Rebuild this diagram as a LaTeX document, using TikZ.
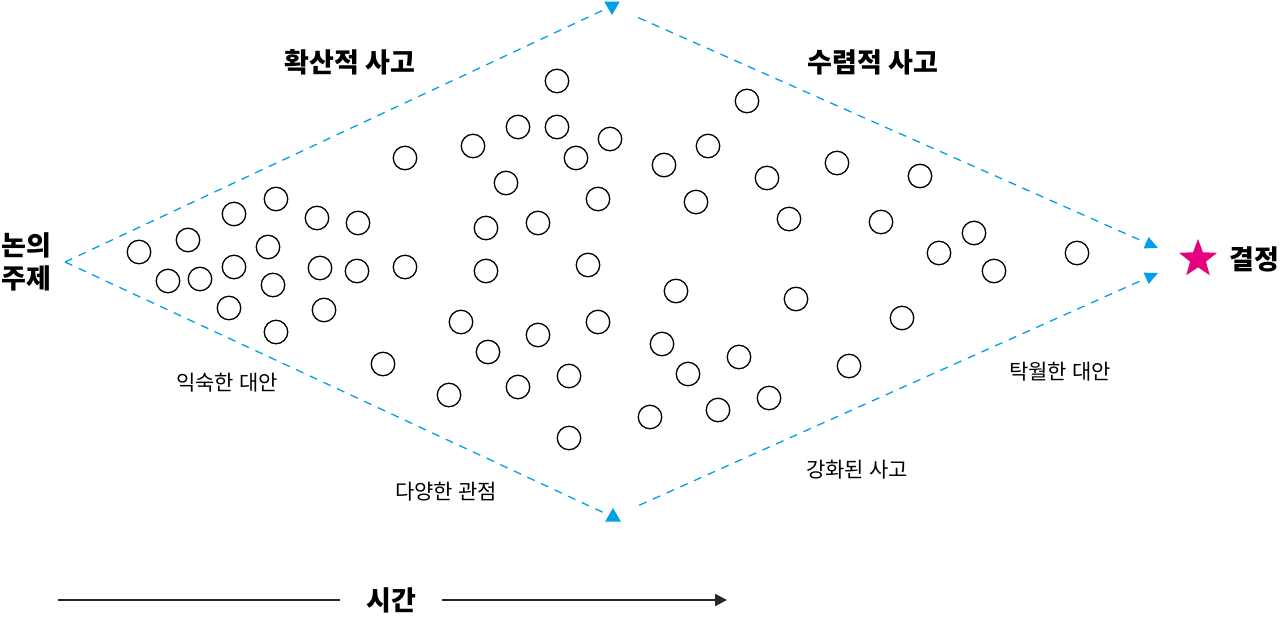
\documentclass[tikz,border=0pt]{standalone}
\usepackage{fontspec}
\newfontfamily\krfont{Noto Sans CJK KR}
\usetikzlibrary{arrows.meta,shapes.geometric}
\definecolor{flowblue}{RGB}{0,160,233}
\definecolor{starpink}{RGB}{228,0,127}

\begin{document}
\begin{tikzpicture}[
	x=1pt, y=-1pt,
	idea/.style={
		circle,
		draw=black,
		line width=1.3pt,
		inner sep=0pt,
		minimum size=23.5pt
	},
	title/.style={
		align=center,
		font=\krfont\bfseries\fontsize{27}{33}\selectfont
	},
	note/.style={
		align=center,
		font=\krfont\fontsize{21}{24}\selectfont
	},
	flow/.style={
		draw=flowblue,
		line width=1.3pt,
		dash pattern=on 8pt off 7pt
	},
	marker/.style={
		regular polygon,
		regular polygon sides=3,
		fill=flowblue,
		inner sep=0pt,
		minimum size=18pt
	},
	timeline/.style={
		draw=black!85,
		line width=2pt
	},
]
\useasboundingbox (0,0) rectangle (1280,616);

% thought bubbles
\foreach \x/\y [count=\i] in {
	139/252, 188/240, 234/214, 276/199, 317/218, 358/223, 405/158,
	168/281, 200/279, 234/267, 268/247, 273/285, 320/268, 357/271, 405/267,
	229/308, 276/332, 324/310, 383/364,
	557/81, 518/127, 557/127, 610/139, 473/146, 576/158, 506/183, 598/199,
	486/228, 538/223, 486/271, 588/265, 461/322, 598/322, 538/335, 488/352,
	569/376, 449/395, 518/387, 569/438,
	747/101, 708/146, 664/165, 767/178, 696/202, 789/219, 837/163,
	676/291, 796/299, 662/344, 688/374, 739/357, 849/366, 650/417, 718/410, 769/398,
	920/176, 881/222, 974/233, 939/253, 994/271, 1077/253, 902/318}
	\node[idea] (idea\i) at (\x,\y) {};

% topic and goal
\node[title] (topic) at (26,262) {논의\\주제};
\coordinate (start) at (65,262);
\node[marker, shape border rotate=180] (toptip) at (612,6) {};
\node[marker] (bottip) at (613,517) {};
\coordinate (upend) at (1158,248);
\coordinate (downend) at (1158,273);
\node[star, star points=5, star point ratio=2.4, fill=starpink, inner sep=0pt, minimum size=40pt] (goal) at (1198,259) {};
\node[title, anchor=west] (decision) at (1226,259) {결정};

\draw[flow] (start) -- (toptip);
\draw[flow] (start) -- (bottip);
\draw[flow, -{Triangle[length=13pt,width=12pt]}, shorten <=24pt] (toptip) -- (upend);
\draw[flow, -{Triangle[length=13pt,width=12pt]}, shorten <=24pt] (bottip) -- (downend);

% phases and labels
\node[title] (diverge) at (350,62) {확산적 사고};
\node[title] (converge) at (873,62) {수렴적 사고};
\node[note] (familiar) at (227,383) {익숙한 대안};
\node[note] (various) at (446,492) {다양한 관점};
\node[note] (strong) at (857,470) {강화된 사고};
\node[note] (excellent) at (1060,372) {탁월한 대안};

% time axis
\node[title, inner xsep=26pt] (time) at (391,600) {시간};
\coordinate (tstart) at (58,600);
\coordinate (tend) at (727,600);
\draw[timeline] (tstart) -- (time);
\draw[timeline, -{Triangle[length=12pt,width=12pt]}] (time) -- (tend);

\end{tikzpicture}
\end{document}
